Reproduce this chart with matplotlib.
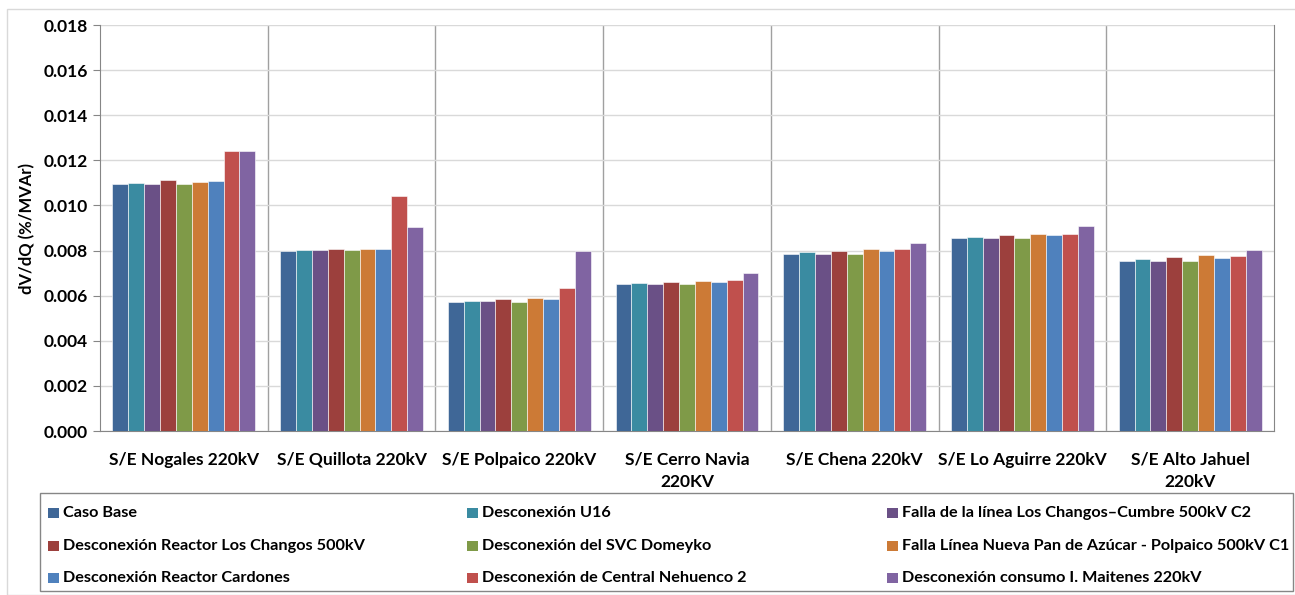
import matplotlib
matplotlib.use("Agg")
import matplotlib.pyplot as plt
import numpy as np
from matplotlib.patches import Rectangle

plt.rcParams['font.family'] = ['Lato', 'DejaVu Sans']
plt.rcParams['font.weight'] = 'bold'

categories = ["S/E Nogales 220kV", "S/E Quillota 220kV", "S/E Polpaico 220kV",
              "S/E Cerro Navia\n220KV", "S/E Chena 220kV", "S/E Lo Aguirre 220kV",
              "S/E Alto Jahuel\n220kV"]

series_names = ["Caso Base", "Desconexión U16",
                "Falla de la línea Los Changos–Cumbre 500kV C2",
                "Desconexión Reactor Los Changos 500kV", "Desconexión del SVC Domeyko",
                "Falla Línea Nueva Pan de Azúcar - Polpaico 500kV C1",
                "Desconexión Reactor Cardones", "Desconexión de Central Nehuenco 2",
                "Desconexión consumo I. Maitenes 220kV"]

caso_base = [0.01094, 0.00798, 0.00571, 0.00651, 0.00785, 0.00856, 0.00754]
u16 = [0.01100, 0.00803, 0.00576, 0.00656, 0.00793, 0.00861, 0.00763]
falla_lc = [0.01094, 0.00803, 0.00576, 0.00651, 0.00785, 0.00856, 0.00754]
reactor_lc = [0.01112, 0.00807, 0.00584, 0.00660, 0.00799, 0.00867, 0.00772]
svc = [0.01094, 0.00803, 0.00571, 0.00651, 0.00785, 0.00856, 0.00754]
falla_lnpa = [0.01103, 0.00807, 0.00588, 0.00664, 0.00806, 0.00874, 0.00781]
cardones = [0.01107, 0.00807, 0.00584, 0.00660, 0.00799, 0.00867, 0.00768]
nehuenco = [0.01240, 0.01043, 0.00633, 0.00668, 0.00806, 0.00874, 0.00777]
maitenes = [0.01240, 0.00906, 0.00800, 0.00700, 0.00834, 0.00907, 0.00803]

values = [caso_base, u16, falla_lc, reactor_lc, svc, falla_lnpa, cardones, nehuenco, maitenes]
colors = ["#3F6797", "#3A8BA1", "#6A5086", "#9C403D", "#7F9A48", "#CC7A36",
          "#4F81BD", "#C0504D", "#8064A2"]

W, H = 1295, 595
fig = plt.figure(figsize=(W / 100, H / 100), dpi=100)
fig.patches.append(Rectangle((7 / W, 0), (W - 7) / W + 0.01, (H - 9) / H, transform=fig.transFigure,
                             fill=False, edgecolor="#D9D9D9", linewidth=1))

ax = fig.add_axes([100 / W, (H - 431) / H, 1174 / W, 406 / H])
n = len(categories)
ns = len(values)
bw = 0.0947
x = np.arange(n)
for i, (vals, c) in enumerate(zip(values, colors)):
    off = (i - (ns - 1) / 2) * bw
    ax.bar(x + off, vals, width=bw, color=c, edgecolor="white", linewidth=0.4, zorder=3)

ax.set_xlim(-0.5, n - 0.5)
ax.set_ylim(0, 0.018)
ticks = np.arange(0, 0.0181, 0.002)
ax.set_yticks(ticks)
ax.set_yticklabels([f"{v:.3f}" for v in ticks], fontsize=12.5, fontweight='bold')
ax.yaxis.grid(True, color="#D9D9D9", linewidth=1, zorder=0)
for b in np.arange(0.5, n - 0.5, 1):
    ax.axvline(b, color="#A0A0A0", linewidth=1, zorder=1)
ax.set_xticks(x)
ax.set_xticklabels(categories, fontsize=12.5, fontweight='bold', linespacing=1.45, va='top')
ax.tick_params(axis='x', length=0, pad=15)
ax.tick_params(axis='y', length=5, color="#868686", pad=4, direction='out')
for s in ["left", "bottom", "right"]:
    ax.spines[s].set_color("#868686")
ax.spines["top"].set_visible(False)
ax.set_ylabel("dV/dQ (%/MVAr)", fontsize=12, fontweight='bold', labelpad=6)

# legend box
lx0, ly0, lx1, ly1 = 40, 493, 1293, 591
fig.patches.append(Rectangle((lx0 / W, 1 - ly1 / H), (lx1 - lx0) / W, (ly1 - ly0) / H,
                             transform=fig.transFigure, fill=False, edgecolor="#868686", linewidth=1))
col_x = [48, 467, 887]
row_y = [513, 546, 578]
for i, (name, c) in enumerate(zip(series_names, colors)):
    r, col = divmod(i, 3)
    mx = col_x[col]
    my = row_y[r]
    fig.patches.append(Rectangle((mx / W, 1 - (my + 5) / H), 11 / W, 10 / H,
                                 transform=fig.transFigure, facecolor=c, edgecolor='none'))
    fig.text((mx + 15) / W, 1 - my / H, name, fontsize=11.7, fontweight='bold', va='center', ha='left')

fig.savefig("out.png", dpi=100)
